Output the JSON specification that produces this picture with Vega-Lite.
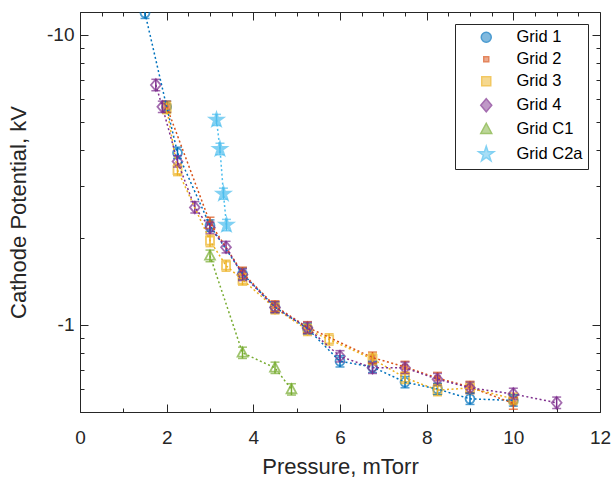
{
  "$schema": "https://vega.github.io/schema/vega-lite/v6.json",
  "width": 520,
  "height": 400,
  "autosize": "none",
  "padding": {"left": 80, "top": 12, "right": 13, "bottom": 68},
  "background": "white",
  "config": {
    "view": {"stroke": "#262626", "strokeWidth": 1},
    "font": "Liberation Sans",
    "axis": {
      "domainColor": "#262626",
      "tickColor": "#262626",
      "labelColor": "#262626",
      "titleColor": "#262626",
      "labelFont": "Liberation Sans",
      "titleFont": "Liberation Sans",
      "titleFontWeight": "normal",
      "labelFontSize": 19,
      "titleFontSize": 22,
      "grid": false,
      "labelFlush": false,
      "labelOverlap": false
    }
  },
  "data": {
    "values": [
      {"s": "Grid 1", "p": 1.5, "v": 11.9, "lo": 11.4, "hi": 12.4},
      {"s": "Grid 1", "p": 2.0, "v": 5.65, "lo": 5.40, "hi": 5.91},
      {"s": "Grid 1", "p": 2.25, "v": 3.92, "lo": 3.75, "hi": 4.10},
      {"s": "Grid 1", "p": 3.0, "v": 2.2, "lo": 2.10, "hi": 2.30},
      {"s": "Grid 1", "p": 3.75, "v": 1.5, "lo": 1.43, "hi": 1.57},
      {"s": "Grid 1", "p": 4.5, "v": 1.15, "lo": 1.10, "hi": 1.20},
      {"s": "Grid 1", "p": 5.25, "v": 0.97, "lo": 0.93, "hi": 1.01},
      {"s": "Grid 1", "p": 6.0, "v": 0.748, "lo": 0.715, "hi": 0.782},
      {"s": "Grid 1", "p": 6.75, "v": 0.715, "lo": 0.684, "hi": 0.748},
      {"s": "Grid 1", "p": 7.5, "v": 0.634, "lo": 0.606, "hi": 0.663},
      {"s": "Grid 1", "p": 8.25, "v": 0.6, "lo": 0.574, "hi": 0.628},
      {"s": "Grid 1", "p": 9.0, "v": 0.555, "lo": 0.531, "hi": 0.581},
      {"s": "Grid 1", "p": 10.0, "v": 0.548, "lo": 0.524, "hi": 0.573},

      {"s": "Grid 2", "p": 2.0, "v": 5.65, "lo": 5.40, "hi": 5.91},
      {"s": "Grid 2", "p": 3.0, "v": 2.25, "lo": 2.15, "hi": 2.35},
      {"s": "Grid 2", "p": 3.75, "v": 1.51, "lo": 1.44, "hi": 1.58},
      {"s": "Grid 2", "p": 4.5, "v": 1.16, "lo": 1.11, "hi": 1.21},
      {"s": "Grid 2", "p": 5.25, "v": 0.98, "lo": 0.937, "hi": 1.025},
      {"s": "Grid 2", "p": 6.75, "v": 0.77, "lo": 0.736, "hi": 0.805},
      {"s": "Grid 2", "p": 7.5, "v": 0.715, "lo": 0.684, "hi": 0.748},
      {"s": "Grid 2", "p": 8.25, "v": 0.655, "lo": 0.626, "hi": 0.685},
      {"s": "Grid 2", "p": 9.0, "v": 0.61, "lo": 0.583, "hi": 0.638},
      {"s": "Grid 2", "p": 10.0, "v": 0.535, "lo": 0.511, "hi": 0.560},

      {"s": "Grid 3", "p": 2.0, "v": 5.6, "lo": 5.35, "hi": 5.86},
      {"s": "Grid 3", "p": 2.25, "v": 3.42, "lo": 3.27, "hi": 3.58},
      {"s": "Grid 3", "p": 3.0, "v": 1.95, "lo": 1.86, "hi": 2.04},
      {"s": "Grid 3", "p": 3.37, "v": 1.6, "lo": 1.53, "hi": 1.67},
      {"s": "Grid 3", "p": 3.75, "v": 1.43, "lo": 1.37, "hi": 1.50},
      {"s": "Grid 3", "p": 4.5, "v": 1.14, "lo": 1.09, "hi": 1.19},
      {"s": "Grid 3", "p": 5.25, "v": 0.96, "lo": 0.918, "hi": 1.004},
      {"s": "Grid 3", "p": 5.75, "v": 0.89, "lo": 0.851, "hi": 0.931},
      {"s": "Grid 3", "p": 6.75, "v": 0.762, "lo": 0.728, "hi": 0.797},
      {"s": "Grid 3", "p": 7.5, "v": 0.656, "lo": 0.627, "hi": 0.686},
      {"s": "Grid 3", "p": 8.25, "v": 0.595, "lo": 0.569, "hi": 0.622},
      {"s": "Grid 3", "p": 9.0, "v": 0.605, "lo": 0.578, "hi": 0.633},
      {"s": "Grid 3", "p": 10.0, "v": 0.555, "lo": 0.531, "hi": 0.581},

      {"s": "Grid 4", "p": 1.75, "v": 6.72, "lo": 6.42, "hi": 7.03},
      {"s": "Grid 4", "p": 1.9, "v": 5.65, "lo": 5.40, "hi": 5.91},
      {"s": "Grid 4", "p": 2.25, "v": 3.66, "lo": 3.50, "hi": 3.83},
      {"s": "Grid 4", "p": 2.65, "v": 2.54, "lo": 2.43, "hi": 2.66},
      {"s": "Grid 4", "p": 3.0, "v": 2.16, "lo": 2.06, "hi": 2.26},
      {"s": "Grid 4", "p": 3.37, "v": 1.85, "lo": 1.77, "hi": 1.94},
      {"s": "Grid 4", "p": 3.75, "v": 1.49, "lo": 1.42, "hi": 1.56},
      {"s": "Grid 4", "p": 4.5, "v": 1.147, "lo": 1.10, "hi": 1.20},
      {"s": "Grid 4", "p": 5.25, "v": 0.975, "lo": 0.932, "hi": 1.02},
      {"s": "Grid 4", "p": 6.0, "v": 0.778, "lo": 0.744, "hi": 0.814},
      {"s": "Grid 4", "p": 6.75, "v": 0.71, "lo": 0.679, "hi": 0.743},
      {"s": "Grid 4", "p": 7.5, "v": 0.71, "lo": 0.679, "hi": 0.743},
      {"s": "Grid 4", "p": 8.25, "v": 0.649, "lo": 0.620, "hi": 0.679},
      {"s": "Grid 4", "p": 9.0, "v": 0.606, "lo": 0.579, "hi": 0.634},
      {"s": "Grid 4", "p": 10.0, "v": 0.577, "lo": 0.552, "hi": 0.604},
      {"s": "Grid 4", "p": 11.0, "v": 0.538, "lo": 0.514, "hi": 0.563},

      {"s": "Grid C1", "p": 3.0, "v": 1.73, "lo": 1.65, "hi": 1.81},
      {"s": "Grid C1", "p": 3.75, "v": 0.8, "lo": 0.765, "hi": 0.837},
      {"s": "Grid C1", "p": 4.5, "v": 0.71, "lo": 0.679, "hi": 0.743},
      {"s": "Grid C1", "p": 4.88, "v": 0.598, "lo": 0.572, "hi": 0.626},

      {"s": "Grid C2a", "p": 3.15, "v": 5.09, "lo": 4.87, "hi": 5.32},
      {"s": "Grid C2a", "p": 3.23, "v": 4.04, "lo": 3.86, "hi": 4.23},
      {"s": "Grid C2a", "p": 3.31, "v": 2.83, "lo": 2.71, "hi": 2.96},
      {"s": "Grid C2a", "p": 3.38, "v": 2.21, "lo": 2.11, "hi": 2.31}
    ]
  },
  "layer": [
    {
      "mark": {"type": "point", "strokeWidth": 1.8, "size": 80, "clip": true},
      "encoding": {
        "x": {"field": "p", "type": "quantitative",
          "scale": {"domain": [0, 12], "nice": false, "zero": false},
          "axis": {"orient": "bottom", "title": "Pressure, mTorr", "titlePadding": 5,
            "values": [0,0.5,1,1.5,2,2.5,3,3.5,4,4.5,5,5.5,6,6.5,7,7.5,8,8.5,9,9.5,10,10.5,11,11.5,12],
            "format": "d",
            "labelExpr": "datum.value % 2 === 0 ? datum.label : ''",
            "labelPadding": 24,
            "tickSize": {"condition": {"test": "datum.value % 2 === 0", "value": -8}, "value": -4}}},
        "y": {"field": "v", "type": "quantitative",
          "scale": {"type": "log", "domain": [0.5, 12], "nice": false},
          "axis": {"orient": "left", "title": "Cathode Potential, kV", "titlePadding": 16,
            "values": [0.6,0.7,0.8,0.9,1,2,3,4,5,6,7,8,9,10],
            "labelExpr": "datum.value === 1 ? '-1' : (datum.value === 10 ? '-10' : '')",
            "labelPadding": 14,
            "tickSize": {"condition": {"test": "datum.value === 1 || datum.value === 10", "value": -8}, "value": -4}}},
        "color": {"field": "s", "type": "nominal",
          "scale": {"domain": ["Grid 1", "Grid 2", "Grid 3", "Grid 4", "Grid C1", "Grid C2a"],
            "range": ["#0072BD", "#D95319", "#EDB120", "#7E2F8E", "#77AC30", "#4DBEEE"]},
          "legend": {"title": null, "orient": "top-right", "offset": 12,
            "fillColor": "white", "strokeColor": "#262626", "padding": 5,
            "labelFont": "Liberation Sans", "labelFontSize": 16.5, "labelColor": "#000000",
            "symbolSize": 100, "symbolOffset": 18, "labelOffset": 22, "rowPadding": 5,
            "labelLimit": 200,
            "encode": {"symbols": {
              "shape": {"value": {"signal": "scale('shape', datum.value) + 'M-4.5,0H-4.2M-3.7,0H-3.4M-2.9,0H-2.6M-2.1,0H-1.8M-1.4,0H-1.15M1.15,0H1.4M1.8,0H2.1M2.6,0H2.9M3.4,0H3.7M4.2,0H4.5M0,-1.5V1.5M-0.7,-1.5H0.7M-0.7,1.5H0.7'"}},
              "fill": {"value": {"signal": "scale('fill', datum.value)"}},
              "stroke": {"value": {"signal": "scale('color', datum.value)"}},
              "strokeWidth": {"value": 1.6},
              "size": {"value": 100},
              "opacity": {"value": 1}
            }}}},
        "fill": {"field": "s", "type": "nominal", "legend": null,
          "scale": {"domain": ["Grid 1", "Grid 2", "Grid 3", "Grid 4", "Grid C1", "Grid C2a"],
            "range": ["transparent", "#D95319", "transparent", "transparent", "transparent", "#4DBEEE"]}},
        "shape": {"field": "s", "type": "nominal", "legend": null,
          "scale": {"domain": ["Grid 1", "Grid 2", "Grid 3", "Grid 4", "Grid C1", "Grid C2a"],
            "range": [
              "M1,0A1,1,0,1,1,-1,0A1,1,0,1,1,1,0Z",
              "M-0.5,-0.5H0.5V0.5H-0.5Z",
              "M-0.9,-0.9H0.9V0.9H-0.9Z",
              "M0,-1.3L1.1,0L0,1.3L-1.1,0Z",
              "M0,-1.2L1.1,0.85H-1.1Z",
              "M0,-1.6L0.359,-0.494L1.522,-0.494L0.581,0.189L0.941,1.294L0,0.611L-0.941,1.294L-0.581,0.189L-1.522,-0.494L-0.359,-0.494Z"
            ]}}
      }
    },
    {
      "mark": {"type": "errorbar", "ticks": {"size": 9}, "thickness": 1.5, "clip": true},
      "encoding": {
        "x": {"field": "p", "type": "quantitative", "axis": null},
        "y": {"field": "lo", "type": "quantitative", "axis": null},
        "y2": {"field": "hi"},
        "color": {"field": "s", "type": "nominal"}
      }
    },
    {
      "mark": {"type": "line", "strokeDash": [2, 2.5], "strokeWidth": 1.5, "clip": true},
      "encoding": {
        "x": {"field": "p", "type": "quantitative",
          "axis": {"orient": "top", "labels": false, "title": null, "domain": false,
            "values": [0,0.5,1,1.5,2,2.5,3,3.5,4,4.5,5,5.5,6,6.5,7,7.5,8,8.5,9,9.5,10,10.5,11,11.5,12],
            "tickSize": {"condition": {"test": "datum.value % 2 === 0", "value": -8}, "value": -4}}},
        "y": {"field": "v", "type": "quantitative",
          "axis": {"orient": "right", "labels": false, "title": null, "domain": false,
            "values": [0.6,0.7,0.8,0.9,1,2,3,4,5,6,7,8,9,10],
            "tickSize": {"condition": {"test": "datum.value === 1 || datum.value === 10", "value": -8}, "value": -4}}},
        "color": {"field": "s", "type": "nominal"},
        "order": {"field": "p", "type": "quantitative"}
      }
    }
  ],
  "resolve": {"axis": {"x": "independent", "y": "independent"}}
}
